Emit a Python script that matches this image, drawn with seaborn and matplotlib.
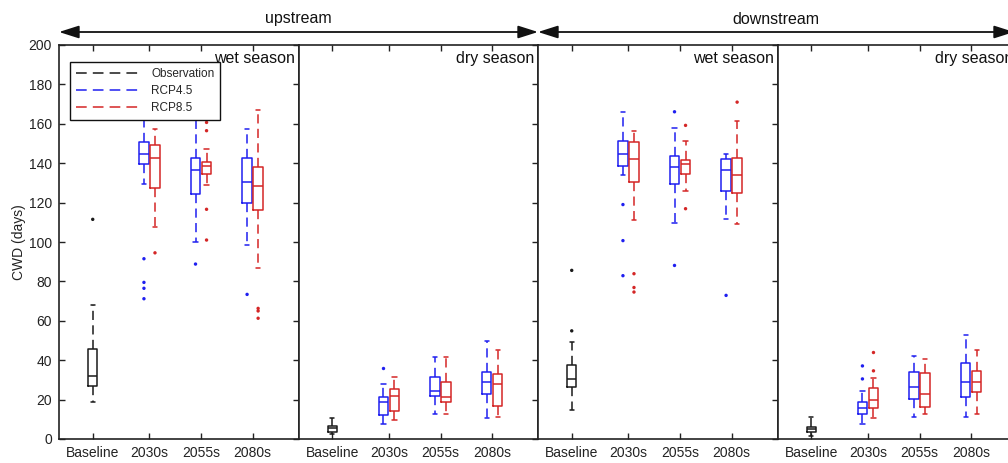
import numpy as np
import pandas as pd
import matplotlib
matplotlib.use("Agg")
import matplotlib.pyplot as plt
from matplotlib.lines import Line2D
import seaborn as sns

# ---------------- data ----------------
periods = ["Baseline", "2030s", "2055s", "2080s"]
regions = ["upstream", "downstream"]
seasons = ["wet season", "dry season", "wet season", "dry season"]
scenarios = ["Observation", "RCP4.5", "RCP8.5"]

# five-number summaries [lower whisker, Q1, median, Q3, upper whisker], one per panel
obs_box = [[19, 27, 32, 45.5, 68],
           [2.4, 3.7, 5.4, 6.8, 10.5],
           [14.7, 26.6, 30.5, 37.6, 49.2],
           [1.7, 3.7, 4.9, 6.3, 11]]
obs_out = [[111.5], [], [85.6, 54.9], []]

# per panel: 2030s, 2055s, 2080s
rcp45_box = [
    [[129.6, 139.5, 144.5, 151, 166], [99.8, 124.2, 136.5, 142.5, 166], [98.5, 119.6, 130.4, 142.5, 157.5]],
    [[7.5, 12.2, 19, 21.5, 27.8], [12.5, 22, 24.6, 31.4, 41.5], [10.5, 22.7, 28.8, 33.9, 49.5]],
    [[134.2, 138.5, 144.9, 151.2, 165.9], [109.8, 129.2, 138.1, 143.9, 158], [111.7, 126.1, 136.3, 141.9, 144.9]],
    [[7.5, 12.5, 15.9, 19, 24.6], [11.4, 20.2, 26.6, 34.2, 41.9], [11.4, 21.5, 28.8, 38.8, 52.9]],
]
rcp45_out = [
    [[91.5, 79.5, 76.5, 71.2], [88.8], [73.4]],
    [[35.9], [], []],
    [[119, 100.7, 82.9], [166.1, 88.1], [72.9]],
    [[37.1, 30.5], [], []],
]
rcp85_box = [
    [[107.5, 127.6, 142.5, 149, 157.5], [128.8, 134.5, 138.5, 140.4, 147], [86.6, 116, 128.5, 138, 167]],
    [[9.7, 14.4, 21.9, 25.3, 31.7], [12.5, 18.6, 21.5, 28.8, 41.5], [11.4, 16.9, 27.8, 32.9, 45.3]],
    [[111, 130.3, 142.2, 150.7, 156.3], [125.8, 134.7, 139.8, 141.4, 151.2], [109.2, 124.9, 134.2, 142.7, 161.2]],
    [[10.5, 15.6, 19.8, 25.8, 30.8], [12.5, 16.1, 22.7, 33.7, 40.7], [12.5, 24.1, 28.8, 34.6, 45.3]],
]
rcp85_out = [
    [[94.5], [101, 116.6, 156.5, 160.7], [66.3, 65, 61.3]],
    [[], [], []],
    [[83.9, 76.9, 74.6], [159.2, 116.9], [171]],
    [[43.9, 34.6], [], []],
]

# ---------------- layout / style ----------------
period_pos = {"Baseline": 1.0, "2030s": 2.1, "2055s": 3.1, "2080s": 4.1}
scen_offset = {"Observation": 0.0, "RCP4.5": -0.107, "RCP8.5": 0.107}
palette = {"Observation": "#1a1a1a", "RCP4.5": "#1f1ff0", "RCP8.5": "#d42626"}

sns.set_style("white")
plt.rcParams["font.family"] = ["Liberation Sans", "DejaVu Sans"]
plt.rcParams["axes.edgecolor"] = "#222222"
plt.rcParams["axes.linewidth"] = 1.2

W, H = 1008, 463
fig = plt.figure(figsize=(W / 100, H / 100), dpi=100)

left_px, panel_px = 59, 239.5
top_px, bottom_px = 45, 439
axes = []
for i in range(4):
    x0 = (left_px + i * panel_px) / W
    ax = fig.add_axes([x0, (H - bottom_px) / H, panel_px / W, (bottom_px - top_px) / H])
    axes.append(ax)

for i, ax in enumerate(axes):
    rows, out_rows = [], []
    for v in obs_box[i]:
        rows.append(("Observation", period_pos["Baseline"], v))
    for v in obs_out[i]:
        out_rows.append(("Observation", period_pos["Baseline"], v))
    for j, per in enumerate(periods[1:]):
        for scen, box, out in (("RCP4.5", rcp45_box, rcp45_out), ("RCP8.5", rcp85_box, rcp85_out)):
            for v in box[i][j]:
                rows.append((scen, period_pos[per] + scen_offset[scen], v))
            for v in out[i][j]:
                out_rows.append((scen, period_pos[per] + scen_offset[scen], v))
    df = pd.DataFrame(rows, columns=["scenario", "pos", "CWD"])
    dfo = pd.DataFrame(out_rows, columns=["scenario", "pos", "CWD"])

    sns.boxplot(data=df, x="pos", y="CWD", hue="scenario", hue_order=scenarios,
                palette=palette, native_scale=True, dodge=False, fill=False,
                width=0.85, whis=(0, 100), showfliers=False, linewidth=1.1,
                whiskerprops={"linestyle": (0, (6, 3.5))}, capwidths=0.08,
                legend=False, ax=ax)
    if len(dfo):
        sns.scatterplot(data=dfo, x="pos", y="CWD", hue="scenario", hue_order=scenarios,
                        palette=palette, s=6, linewidth=0, legend=False, ax=ax, zorder=3)

    ax.set_xlim(0.346, 4.99)
    ax.set_ylim(0, 200)
    ax.set_xticks([period_pos[p] for p in periods])
    ax.set_xticklabels(periods, fontsize=10, color="#222222")
    ax.set_xlabel("")
    ax.set_yticks(np.arange(0, 201, 20))
    ax.tick_params(axis="both", direction="in", length=4, width=1, color="#222222",
                   top=True, right=True, bottom=True, pad=5)
    if i == 0:
        ax.tick_params(axis="y", left=True, labelleft=True, labelsize=10, labelcolor="#222222")
        ax.set_ylabel("CWD (days)", fontsize=10, color="#222222", labelpad=2)
    else:
        ax.tick_params(axis="y", left=False, labelleft=False)
        ax.set_ylabel("")
    for sp in ax.spines.values():
        sp.set_visible(True)
    ax.text(0.985, 0.985, seasons[i], transform=ax.transAxes, ha="right", va="top",
            fontsize=11.5, color="#111111")

# legend
handles = [Line2D([0], [0], color=palette[s], lw=1.1, linestyle=(0, (7, 4))) for s in scenarios]
axes[0].legend(handles, scenarios, loc="upper left", bbox_to_anchor=(0.02, 0.972),
               fontsize=8.5, frameon=True, fancybox=False, edgecolor="#111111",
               framealpha=1, handlelength=5.6, handletextpad=0.8, labelspacing=0.45,
               borderpad=0.5).get_frame().set_linewidth(1.0)

# top double arrows with region labels
arrow_y = (H - 32) / H
label_y = (H - 19) / H
spans = [(left_px, left_px + 2 * panel_px), (left_px + 2 * panel_px, left_px + 4 * panel_px - 3)]
for name, (a, b) in zip(regions, spans):
    fig.add_artist(matplotlib.patches.FancyArrowPatch(
        (a / W, arrow_y), (b / W, arrow_y), transform=fig.transFigure,
        arrowstyle="<|-|>,head_length=1.1,head_width=0.35", mutation_scale=11,
        color="#111111", lw=1.3, shrinkA=0, shrinkB=0))
    fig.text((a + b) / 2 / W, label_y, name, ha="center", va="center", fontsize=11.5,
             color="#111111")

fig.savefig("out.png", dpi=100)
